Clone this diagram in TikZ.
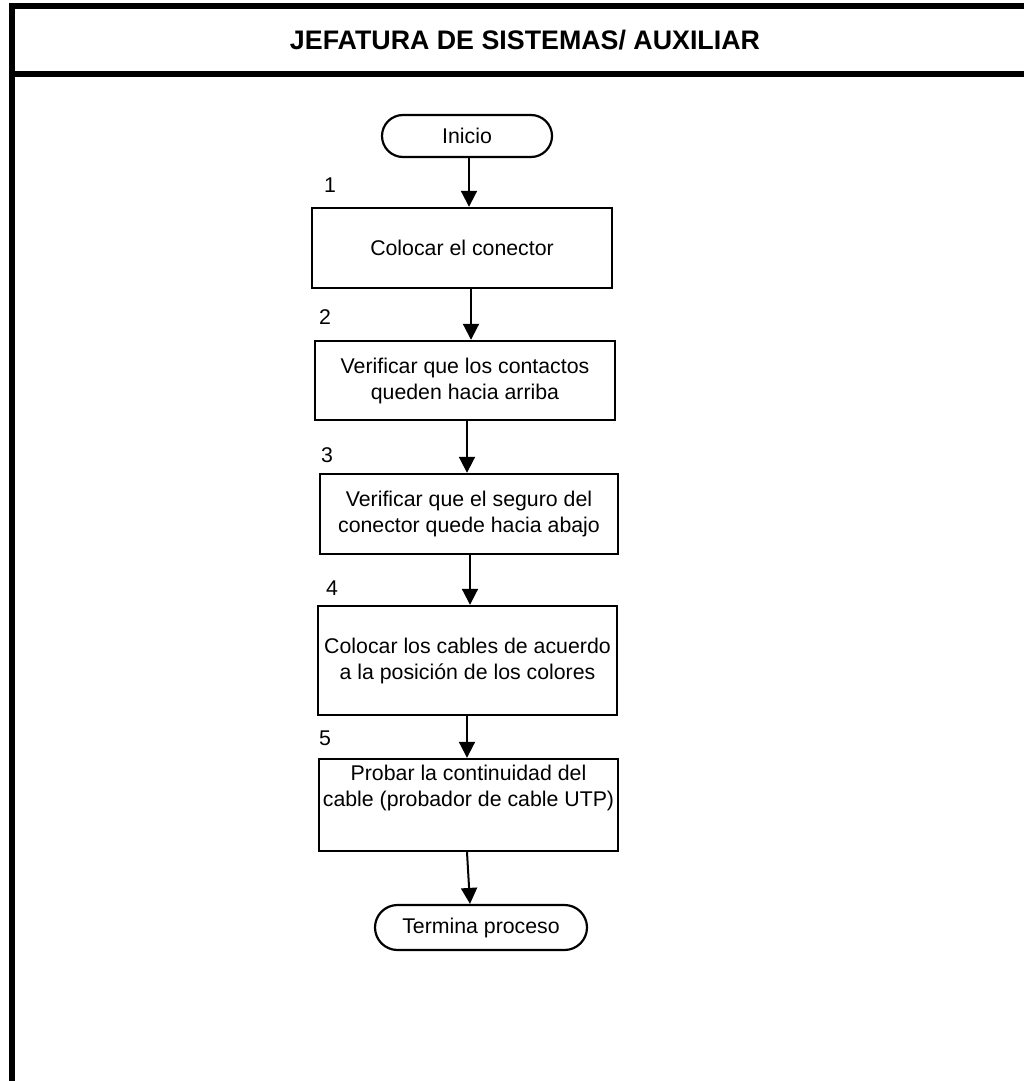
\documentclass[tikz,border=0pt]{standalone}
\usepackage{fontspec}
\setmainfont{Liberation Sans}
\usetikzlibrary{arrows.meta,shapes.misc}
\begin{document}
\begin{tikzpicture}[x=1pt,y=-1pt,
  frame/.style={line width=6pt},
  txt/.style={font=\fontsize{21.3}{26}\selectfont},
  stepbox/.style={txt, draw, line width=2.4pt, rectangle, align=center, inner sep=0pt},
  term/.style={txt, draw, line width=2.2pt, rounded rectangle, inner sep=0pt},
  num/.style={txt, inner sep=0pt},
  flow/.style={line width=2pt, -{Triangle[width=16pt,length=16pt]}}]
\useasboundingbox (0,0) rectangle (1024,1081);

% page frame and header band
\draw[frame] (12,4) -- (12,1081);
\draw[frame] (9,6) -- (1024,6);
\draw[frame] (9,74) -- (1024,74);
\node[font=\fontsize{26.8}{30}\selectfont\bfseries] (head) at (525,40) {JEFATURA DE SISTEMAS/ AUXILIAR};

% process steps
\node[term, minimum width=170, minimum height=42] (ini) at (467,136) {Inicio};
\node[stepbox, minimum width=300, minimum height=80] (b1) at (462,248) {Colocar el conector};
\node[stepbox, minimum width=300, minimum height=79] (b2) at (465,380.5) {Verificar que los contactos\\queden hacia arriba};
\node[stepbox, minimum width=298, minimum height=80] (b3) at (469,514) {Verificar que el seguro del\\conector quede hacia abajo};
\node[stepbox, minimum width=299, minimum height=109] (b4) at (467.5,660.5) {Colocar los cables de acuerdo\\a la posición de los colores};
\node[stepbox, minimum width=299, minimum height=92] (b5) at (468.5,805)
  {\parbox[c][80pt][t]{296pt}{\centering Probar la continuidad del\\cable (probador de cable UTP)}};
\node[term, minimum width=212, minimum height=45] (fin) at (481,927.5) {Termina proceso};

% step numbers
\node[num] (n1) at (330,185) {1};
\node[num] (n2) at (325,317) {2};
\node[num] (n3) at (327,455) {3};
\node[num] (n4) at (332,588) {4};
\node[num] (n5) at (325,738) {5};

% connectors
\draw[flow] ([xshift=2]ini.south) -- ([xshift=2]ini.south |- b1.north);
\draw[flow] ([xshift=9]b1.south) -- ([xshift=9]b1.south |- b2.north);
\draw[flow] ([xshift=2]b2.south) -- ([xshift=2]b2.south |- b3.north);
\draw[flow] ([xshift=1]b3.south) -- ([xshift=1]b3.south |- b4.north);
\draw[flow] ([xshift=-0.5]b4.south) -- ([xshift=-0.5]b4.south |- b5.north);
\draw[flow] ([xshift=-1.5]b5.south) -- ([xshift=-11]fin.north);
\end{tikzpicture}
\end{document}
